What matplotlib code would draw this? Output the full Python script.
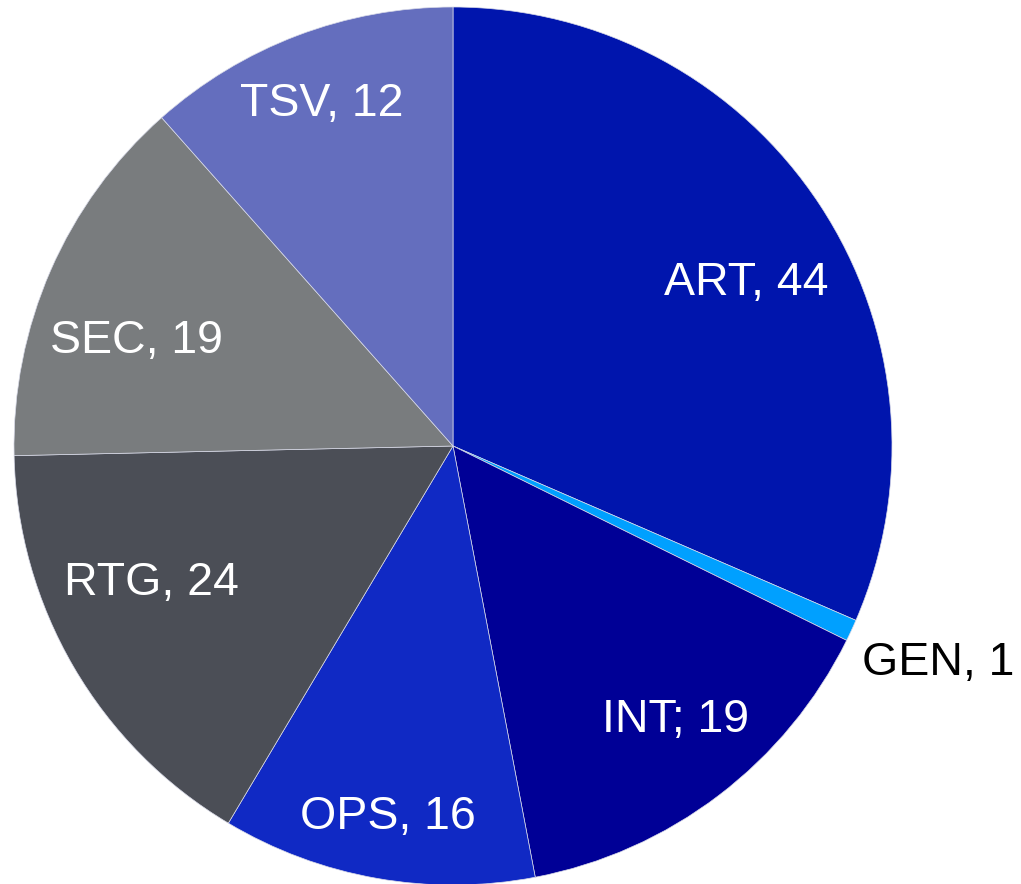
import matplotlib
matplotlib.use("Agg")
import matplotlib.pyplot as plt

plt.rcParams["font.family"] = ["Liberation Sans", "DejaVu Sans"]

# slice shares (percent of the circle), clockwise from 12 o'clock
names = ["ART", "GEN", "INT", "OPS", "RTG", "SEC", "TSV"]
labels = ["ART, 44", "GEN, 1", "INT; 19", "OPS, 16", "RTG, 24", "SEC, 19", "TSV, 12"]
share_pct = [31.5, 0.8, 14.7, 11.55, 16.1, 13.8, 11.55]
colors = ["#0015ad", "#00a0ff", "#000096", "#1029c4", "#4b4e56", "#797c7e", "#646ebe"]
text_colors = ["white", "black", "white", "white", "white", "white", "white"]

# label anchor points (in pie-radius units), mimicking the original placement
label_xy = [(0.667, 0.371), (1.105, -0.494), (0.508, -0.624), (-0.148, -0.845),
            (-0.686, -0.312), (-0.720, 0.239), (-0.298, 0.779)]

fig = plt.figure(figsize=(10.21, 8.84), dpi=100)
ax = fig.add_axes([14 / 1021, -1 / 884, 878 / 1021, 878 / 884])
ax.pie(share_pct, colors=colors, startangle=90, counterclock=False, radius=1.0,
       wedgeprops={"edgecolor": "#d8dae8", "linewidth": 0.5})
for lab, (x, y), tc in zip(labels, label_xy, text_colors):
    ax.text(x, y, lab, color=tc, fontsize=33.5, ha="center", va="center")
ax.set_xlim(-1, 1)
ax.set_ylim(-1, 1)
ax.set_aspect("equal")
ax.axis("off")
fig.savefig("out.png", dpi=100)
